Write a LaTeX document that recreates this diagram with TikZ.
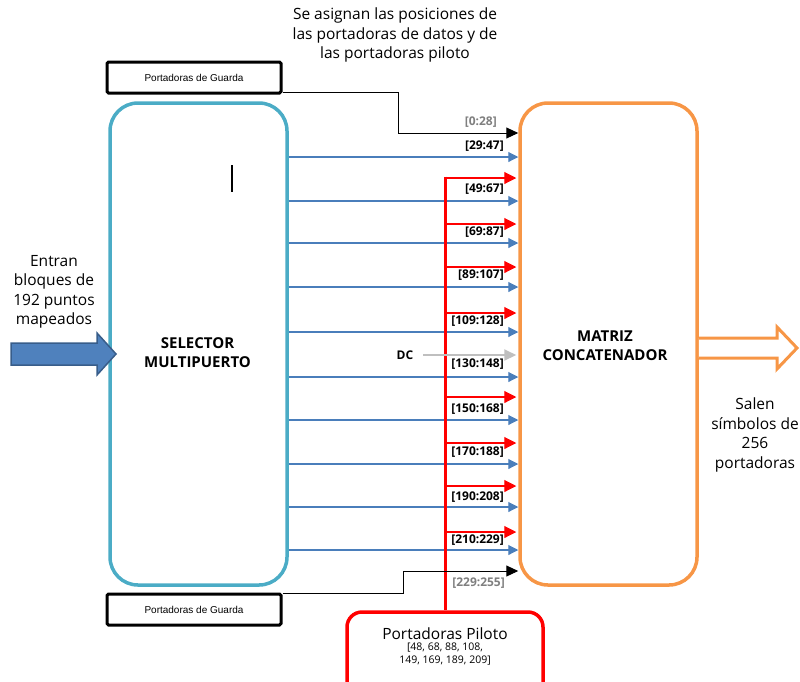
\documentclass[tikz,border=0pt]{standalone}
\usepackage{fontspec}
\setmainfont{Open Sans}
\newfontfamily\guardfont{Liberation Sans}
\usetikzlibrary{arrows.meta,positioning}
\definecolor{selblue}{HTML}{4BACC6}
\definecolor{matorange}{HTML}{F79646}
\definecolor{arrblue}{HTML}{4A7EBB}
\definecolor{inblue}{HTML}{4F81BD}
\definecolor{inedge}{HTML}{385D8A}
\definecolor{dcgray}{HTML}{BFBFBF}
\definecolor{lblgray}{HTML}{7F7F7F}

\begin{document}
\begin{tikzpicture}[x=1pt,y=-1pt,
  blk/.style={line width=3.5pt,rounded corners=28pt,minimum width=177pt,minimum height=482pt,align=center,
    font=\fontsize{15}{19}\selectfont\bfseries},
  guard/.style={draw,line width=3pt,rounded corners=1.5pt,minimum width=174pt,minimum height=31pt,
    font=\guardfont\fontsize{10}{12}\selectfont},
  txt/.style={align=center,font=\fontsize{15.5}{19.5}\selectfont},
  lbl/.style={anchor=east,inner sep=0pt,font=\fontsize{12}{14}\selectfont\bfseries},
  dat/.style={draw=arrblue,line width=1.1pt,-{Triangle[length=10pt,width=10pt]}},
  plt/.style={draw=red,line width=1.1pt,-{Triangle[length=12pt,width=12pt]}},
  grd/.style={draw=black,line width=1pt,-{Triangle[length=12pt,width=11pt]}}]
\useasboundingbox (0,0) rectangle (800,681);
% bloques
\node[blk,draw=selblue] (sel) at (198.5,344) {};
\node[blk] (seltxt) at (197.5,352.5) {SELECTOR\\MULTIPUERTO};
\node[blk,draw=matorange] (mat) at (608.5,344) {};
\node[blk] (mattxt) at (605,345.5) {MATRIZ\\CONCATENADOR};
\node[guard] (gtop) at (194,77.5) {Portadoras de Guarda};
\node[guard] (gbot) at (194,609.5) {Portadoras de Guarda};
\node[draw=red,line width=3.5pt,rounded corners=15pt,minimum width=196pt,minimum height=90pt] (pil) at (445,657) {};
\node[align=center,inner sep=0pt,font=\fontsize{15.5}{17}\selectfont] (piltxt) at (445,634) {Portadoras Piloto};
\node[align=center,inner sep=0pt,font=\fontsize{10.5}{12.5}\selectfont,below=3pt of piltxt] (pillist) {[48, 68, 88, 108,\\149, 169, 189, 209]};
% textos
\node[txt] (asig) at (395,35) {Se asignan las posiciones de\\las portadoras de datos y de\\las portadoras piloto};
\node[txt] (entran) at (54,292) {Entran\\bloques de\\192 puntos\\mapeados};
\node[txt] (salen) at (755,435) {Salen\\s\'imbolos de\\256\\portadoras};
\draw[line width=1.5pt] (232,165)--(232,192);
% flechas de entrada y salida
\draw[draw=inedge,fill=inblue,line width=1.5pt] (11,343)--(97,343)--(97,333)--(116,354)--(97,375)--(97,365)--(11,365)--cycle;
\draw[draw=matorange,fill=white,line width=3pt] (mat.east |- 0,338)--(777,338)--(777,327)--(797,348)--(777,369)--(777,358)--(mat.east |- 0,358);
% portadoras de datos
\foreach \y in {157,201,243,287,332,377,420,464,507,550}
  \draw[dat] (sel.east |- 0,\y) -- (mat.west |- 0,\y);
% portadoras piloto
\draw[red,line width=3pt] (pil.north |- 0,176.5) -- (pil.north);
\foreach \y in {178,224,267,313,397,443,486,532}
  \draw[plt] (pil.north |- 0,\y) -- ([xshift=-2pt]mat.west |- 0,\y);
% guarda
\coordinate (g1) at (398,92);
\coordinate (g2) at (403,593);
\draw[grd] (gtop.east |- g1) -| (g1 |- 0,133) -- (mat.west |- 0,133);
\draw[grd] (gbot.east |- g2) -| (g2 |- 0,571) -- (mat.west |- 0,571);
% DC
\node[inner sep=0pt,font=\fontsize{12}{14}\selectfont\bfseries] (dc) at (405,355) {DC};
\draw[draw=dcgray,line width=2pt,-{Triangle[length=12pt,width=11pt]}] ([xshift=10pt]dc.east) -- ([xshift=-2pt]mat.west |- dc);
% etiquetas
\node[lbl,text=lblgray] at (497,122) {[0:28]};
\node[lbl,text=lblgray] at (505,583) {[229:255]};
\foreach \t/\y in {29:47/146,49:67/189,69:87/232,89:107/275,109:128/321,130:148/364,150:168/409,170:188/452,190:208/497,210:229/540}
  \node[lbl] at (504,\y) {[\t]};
\end{tikzpicture}
\end{document}
